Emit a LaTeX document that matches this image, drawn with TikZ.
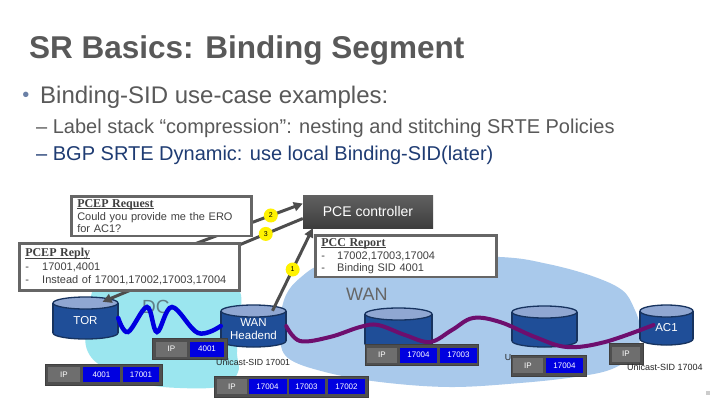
\documentclass[tikz,border=0pt]{standalone}
\usepackage{fontspec}
\setmainfont{Liberation Sans}
\newfontfamily\headfont{Liberation Serif}
\usetikzlibrary{arrows.meta}
\definecolor{titlegray}{HTML}{595959}
\definecolor{navy}{HTML}{1F3C73}
\definecolor{dotblue}{HTML}{6A80A6}
\definecolor{dccyan}{HTML}{9BE6EF}
\definecolor{wanblue}{HTML}{A9C9EB}
\definecolor{cylblue}{HTML}{1F4E98}
\definecolor{cyltop}{HTML}{90A7D2}
\definecolor{cylline}{HTML}{17335F}
\definecolor{arrowgray}{HTML}{4D4D4D}
\definecolor{framegray}{HTML}{666666}
\definecolor{stackgray}{HTML}{4F4F4F}
\definecolor{ipgray}{HTML}{6E6E6E}
\definecolor{sidblue}{HTML}{0000E0}
\definecolor{wavepurple}{HTML}{6E0E6E}
\definecolor{dcgray}{HTML}{5F7F88}
\tikzset{
  cyltext/.style={inner sep=0pt,text=white,align=center,font=\fontsize{11.5}{12.5}\selectfont},
  infobox/.style={draw=framegray,line width=2.5pt,fill=white,anchor=north west,align=left,
    inner xsep=6pt,inner ysep=3pt,text=black!75,font=\fontsize{11}{12.5}\selectfont},
  stackbar/.style={fill=stackgray,draw=stackgray!80!black,line width=.6pt,minimum height=21pt,inner sep=0pt},
  ipcell/.style={fill=ipgray,minimum height=15pt,inner sep=0pt,text=white,font=\fontsize{8}{8}\selectfont},
  sidcell/.style={ipcell,fill=sidblue},
  seqdot/.style={circle,fill=yellow,inner sep=0pt,minimum size=14pt,text=black,font=\fontsize{7}{7}\selectfont},
  signal/.style={draw=arrowgray,line width=3pt,-{Triangle[length=9pt,width=9pt]}},
}
\newcommand{\boxhead}[1]{{\headfont\fontsize{12}{13}\selectfont\bfseries\setbox0\hbox{#1}\rlap{\rule[-1.3pt]{\wd0}{0.6pt}}\box0}}
\newcommand{\listdash}[1]{\makebox[#1][l]{-}}

\begin{document}
\begin{tikzpicture}[x=1pt,y=-1pt]
\useasboundingbox (0,0) rectangle (720,405);
\fill[white] (0,0) rectangle (720,405);
\node[anchor=base west,inner sep=0pt,text=titlegray,font=\fontsize{31.5}{36}\selectfont\bfseries] (title) at (29,58) {SR Basics: Binding Segment};
\node[inner sep=0pt,text=dotblue,font=\fontsize{20}{20}\selectfont] (dot) at (26,97) {•};
\node[anchor=base west,inner sep=0pt,text=titlegray,font=\fontsize{24}{28}\selectfont] (bullet) at (40,103) {Binding-SID use-case examples:};
\node[anchor=base west,inner sep=0pt,text=titlegray,font=\fontsize{20}{24}\selectfont] (suba) at (36,133) {– Label stack “compression”: nesting and stitching SRTE Policies};
\node[anchor=base west,inner sep=0pt,text=navy,font=\fontsize{20}{24}\selectfont] (subb) at (36,160) {– BGP SRTE Dynamic: use local Binding-SID(later)};

% clouds
\fill[dccyan] plot[smooth cycle,tension=0.7] coordinates {(90,300) (100,284) (140,276) (200,276) (236,286) (241,315) (237,350) (238,372) (222,386) (180,388) (140,383) (108,370) (88,352) (86,325)};
\fill[wanblue] plot[smooth cycle,tension=0.6] coordinates {(280,335) (284,300) (300,278) (330,262) (400,257) (500,257) (548,264) (592,276) (622,290) (634,308) (640,328) (636,352) (612,369) (575,377) (520,383) (450,387) (380,382) (325,372) (288,358)};
\node[anchor=base west,inner sep=0pt,text=dcgray,font=\fontsize{19}{20}\selectfont] (dclabel) at (142,313) {DC};
\node[anchor=base west,inner sep=0pt,text=black!60,font=\fontsize{18}{20}\selectfont] (wanlabel) at (346,300) {WAN};

% routers
\foreach \n/\cx/\cy/\w/\h/\t in {tor/85.5/318/65/42/TOR,head/253.5/326/65/42/{WAN\\Headend},rtra/398.5/329/67/42/{},rtrb/544.5/326.5/65/41/{},ac/666.5/325/53/40/AC1}{
  \begin{scope}[shift={(\cx,\cy)}]
    \fill[cylblue,draw=cylline,line width=1.3pt] (0,{\h/2-6}) ellipse ({\w/2} and 6);
    \fill[cylblue] ({-\w/2},{-\h/2+6}) rectangle ({\w/2},{\h/2-6});
    \draw[cylline,line width=1.3pt] ({-\w/2},{-\h/2+6}) -- ({-\w/2},{\h/2-6}) ({\w/2},{-\h/2+6}) -- ({\w/2},{\h/2-6});
    \fill[cyltop,draw=cylline,line width=1.3pt] (0,{-\h/2+6}) ellipse ({\w/2} and 6);
  \end{scope}
  \node[minimum width=\w pt,minimum height=\h pt,inner sep=0pt] (\n) at (\cx,\cy) {};
  \node[cyltext] (\n-txt) at (\cx,\cy+3) {\t};
}

\draw[sidblue,line width=4.5pt,line cap=round] plot[smooth,tension=0.6] coordinates {(tor.east) (128,332) (147,307) (157,332) (172,307) (198,333) (head.west)};
\draw[wavepurple,line width=4pt,line cap=round] plot[smooth,tension=0.6] coordinates {(head.east) (300,341) (330,337) (360,327) (378,325) (405,335) (430,342) (452,330) (473,318) (500,322) (535,337) (567,347) (605,342) ([xshift=-13pt]ac.center)};

\node[top color=black!62,bottom color=black!76,text=white,minimum width=130pt,minimum height=33pt,font=\fontsize{14}{16}\selectfont] (pce) at (368,211.5) {PCE controller};

\coordinate (reqsrc) at (125,270);
\draw[signal] (reqsrc) -- ([yshift=8pt]pce.west) node[seqdot,pos=0.82] (nb) {2};
\draw[signal] ([yshift=-7pt]pce.west) -- ([xshift=17pt,yshift=-5pt]tor.north) node[seqdot,pos=0.185] (nc) {3};
\draw[signal] ([xshift=19pt,yshift=-6pt]head.north) -- ([xshift=10pt]pce.south west) node[seqdot,pos=0.5] (na) {1};

\node[infobox,text width=168pt,minimum height=39pt] (req) at (70,195) {\boxhead{PCEP Request}\\[0.5pt]Could you provide me the ERO\\for AC1?};
\node[infobox,text width=208pt,minimum height=47pt] (rep) at (18,242) {\boxhead{PCEP Reply}\\[1.5pt]\listdash{17pt}17001,4001\\\listdash{17pt}Instead of 17001,17002,17003,17004};
\node[infobox,text width=169pt,minimum height=41pt] (pcc) at (314,234) {\boxhead{PCC Report}\\[0.5pt]\listdash{16pt}17002,17003,17004\\\listdash{16pt}Binding SID 4001};

% label stacks
\foreach \n/\x/\y/\w in {stka/189.5/349/75,stkb/103.5/374.5/117,stkc/291/386.5/154,stkd/421.5/355/113,stke/548.5/365.5/75,stkf/626/354/34}
  \node[stackbar,minimum width=\w pt] (\n) at (\x,\y) {};
\foreach \n/\s/\x/\y/\w/\t in {ca1/ipcell/171.5/349/31/IP,ca2/sidcell/207/349/34/4001,
  cb1/ipcell/64/374.5/32/IP,cb2/sidcell/101.5/374.5/37/4001,cb3/sidcell/141/374.5/36/17001,
  cc1/ipcell/232/386.5/30/IP,cc2/sidcell/267.5/386.5/38/17004,cc3/sidcell/306.5/386.5/36/17003,cc4/sidcell/346.5/386.5/37/17002,
  cd1/ipcell/382/355/30/IP,cd2/sidcell/418.5/355/37/17004,cd3/sidcell/458.5/355/37/17003,
  ce1/ipcell/528/365.5/30/IP,ce2/sidcell/564.5/365.5/37/17004,
  cf1/ipcell/626/354/28/IP}
  \node[\s,minimum width=\w pt] (\n) at (\x,\y) {\t};
\node[anchor=west,inner sep=0pt,text=black!85,font=\fontsize{8.8}{9}\selectfont] (unia) at (216,362.5) {Unicast-SID 17001};
\node[anchor=west,inner sep=0pt,text=black!85,font=\fontsize{9}{9}\selectfont] (unib) at (627,367.5) {Unicast-SID 17004};
\node[anchor=east,inner sep=0pt,text=black!85,font=\fontsize{8.8}{9}\selectfont] (unic) at (511.5,358) {U};
\fill[black!20] (706,391) rectangle (710,395);
\end{tikzpicture}
\end{document}
